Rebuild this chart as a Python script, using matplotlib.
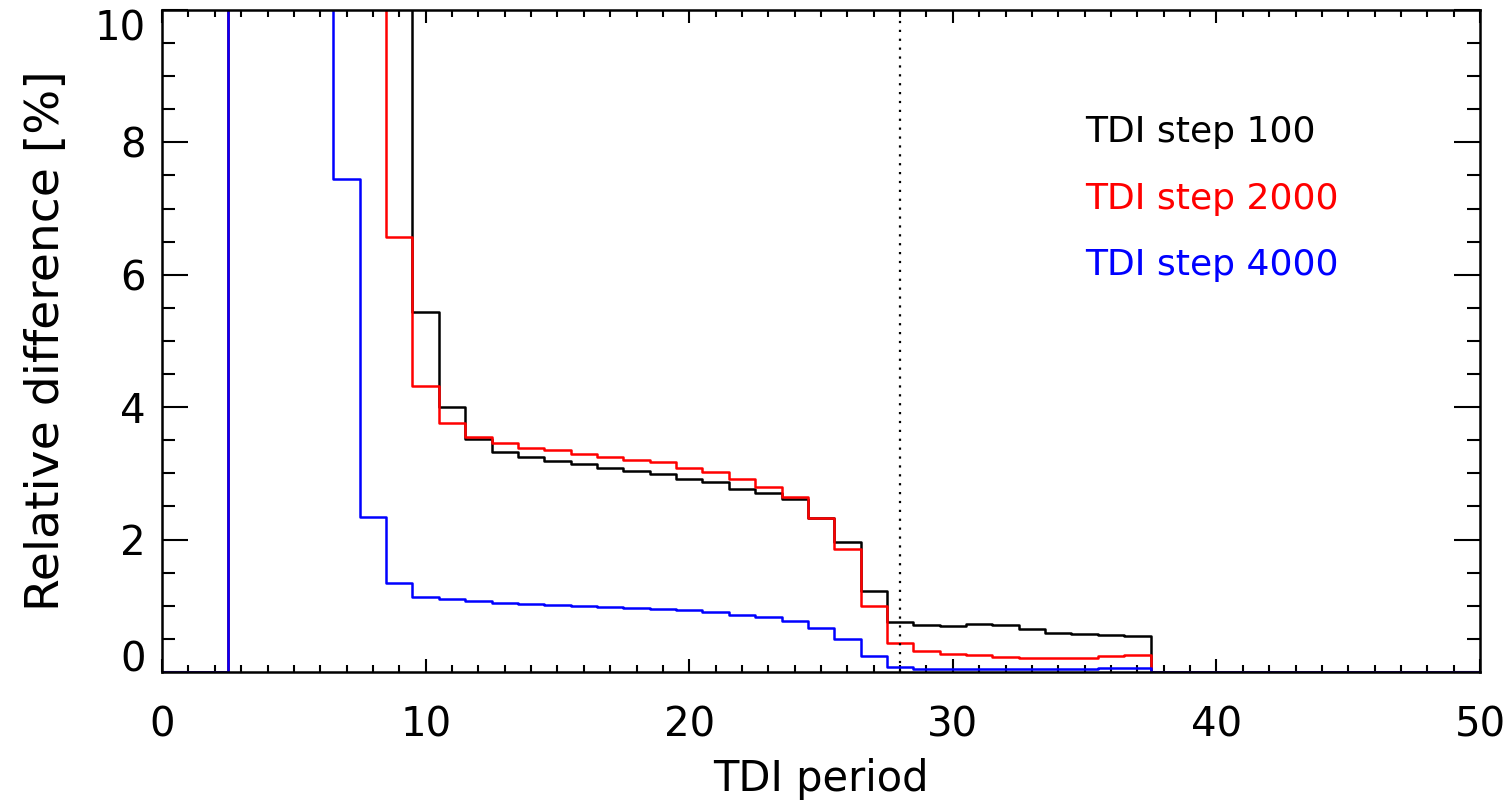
import matplotlib
matplotlib.use("Agg")
import matplotlib.pyplot as plt
from matplotlib.ticker import MultipleLocator
import numpy as np

# ---- data -------------------------------------------------------------
periods = list(range(0, 51))

# values above 10 are off-scale in the reference (clipped at the top)
step100 = [0, 0, 0, 15, 15, 15, 15, 15, 15, 15,
           5.44, 4.00, 3.52, 3.33, 3.25, 3.19, 3.14, 3.08, 3.03, 2.99,
           2.92, 2.87, 2.77, 2.70, 2.61, 2.33, 1.96, 1.22, 0.75, 0.71,
           0.69, 0.72, 0.71, 0.65, 0.59, 0.57, 0.56, 0.55,
           0, 0, 0, 0, 0, 0, 0, 0, 0, 0, 0, 0, 0]
step2000 = [0, 0, 0, 15, 15, 15, 15, 15, 15, 6.57,
            4.32, 3.76, 3.555, 3.46, 3.39, 3.35, 3.30, 3.24, 3.20, 3.17,
            3.08, 3.02, 2.91, 2.80, 2.65, 2.33, 1.855, 0.99, 0.44, 0.31,
            0.27, 0.25, 0.23, 0.21, 0.205, 0.215, 0.24, 0.25,
            0, 0, 0, 0, 0, 0, 0, 0, 0, 0, 0, 0, 0]
step4000 = [0, 0, 0, 15, 15, 15, 15, 7.45, 2.34, 1.34,
            1.135, 1.10, 1.066, 1.04, 1.025, 1.01, 0.995, 0.98, 0.965, 0.955,
            0.93, 0.90, 0.865, 0.825, 0.765, 0.66, 0.50, 0.24, 0.08, 0.045,
            0.04, 0.04, 0.04, 0.04, 0.045, 0.05, 0.055, 0.06,
            0, 0, 0, 0, 0, 0, 0, 0, 0, 0, 0, 0, 0]

series_labels = ["TDI step 100", "TDI step 2000", "TDI step 4000"]
series_colors = ["black", "#ff0000", "#0000ff"]
marker_period = 28
yticks = [0, 2, 4, 6, 8, 10]
xticks = [0, 10, 20, 30, 40, 50]

# ---- figure -----------------------------------------------------------
plt.rcParams['font.family'] = ['DejaVu Sans']
fig = plt.figure(figsize=(15.09, 8.06), dpi=100)
ax = fig.add_axes([0.1074, 0.1663, 0.8734, 0.8213])

for vals, col in zip([step100, step2000, step4000], series_colors):
    ax.step(periods, vals, where='mid', color=col, lw=1.8)

ax.axvline(marker_period, color='black', ls=(0, (1, 3)), lw=1.6)

for i, (lab, col) in enumerate(zip(series_labels, series_colors)):
    ax.text(35, 8 - i, lab, color=col, fontsize=26,
            ha='left', va='baseline')

ax.set_xlim(0, 50)
ax.set_ylim(0, 10)
ax.set_xticks(xticks)
ax.set_yticks(yticks)
ax.xaxis.set_minor_locator(MultipleLocator(1))
ax.yaxis.set_minor_locator(MultipleLocator(0.5))

ax.tick_params(axis='both', which='both', direction='in', top=True, right=True,
               width=1.5, labelsize=29)
ax.tick_params(axis='x', which='major', length=9.5, pad=24)
ax.tick_params(axis='x', which='minor', length=5)
ax.tick_params(axis='y', which='major', length=19, pad=12)
ax.tick_params(axis='y', which='minor', length=9.5)
for sp in ax.spines.values():
    sp.set_linewidth(1.8)

ax.set_xlabel("TDI period", fontsize=30, labelpad=9)
ax.set_ylabel("Relative difference [%]", fontsize=34, labelpad=18)

fig.canvas.draw()
ylabs = ax.yaxis.get_majorticklabels()
ylabs[-1].set_va('top')
ylabs[0].set_va('baseline')

fig.savefig("out.png", dpi=100)
